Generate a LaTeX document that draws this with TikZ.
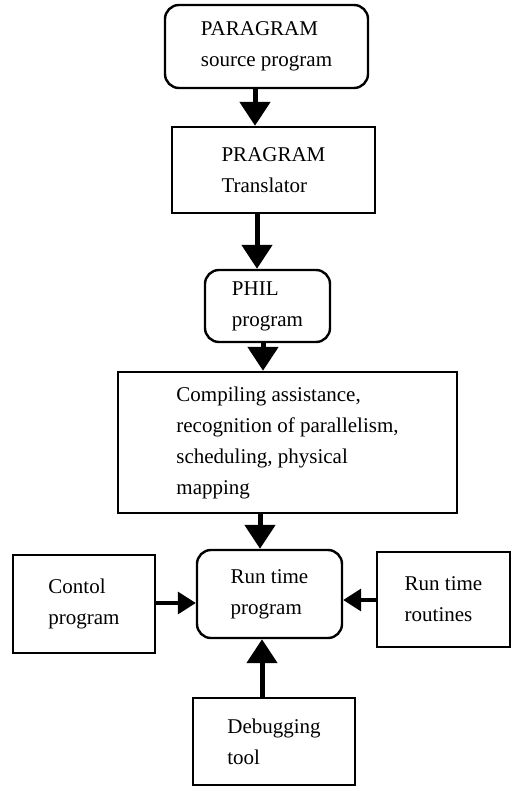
\documentclass[tikz,border=0pt]{standalone}
\usepackage{fontspec}
\setmainfont{Liberation Serif}
\usetikzlibrary{arrows.meta}

\begin{document}
\begin{tikzpicture}[x=1pt, y=-1pt,
    box/.style={draw, line width=2.4pt, align=left, inner sep=0pt, font=\fontsize{21}{31}\selectfont},
    round box/.style={box, rounded corners=14pt},
    flow/.style={line width=5pt, -{Triangle[width=30pt,length=24pt]}},
    side flow/.style={line width=3.5pt, -{Triangle[width=22pt,length=18pt]}}]
        \useasboundingbox (0,0) rectangle (519,791);

          \node[round box, minimum width=203pt, minimum height=83pt] (src) at (266.5,46.5) {PARAGRAM\\source program};
          \node[box, minimum width=203pt, minimum height=86pt] (trans) at (273.5,170) {PRAGRAM\\Translator};
          \node[round box, minimum width=125pt, minimum height=72pt] (phil) at (267.5,306) {PHIL\\program};
          \node[box, minimum width=339pt, minimum height=141pt] (comp) at (287.5,442.5) {Compiling assistance,\\recognition of parallelism,\\scheduling, physical\\mapping};
          \node[round box, minimum width=145pt, minimum height=88pt] (run) at (269.5,594) {Run time\\program};
          \node[box, minimum width=142pt, minimum height=98pt] (ctl) at (84,604) {Contol\\program};
          \node[box, minimum width=133pt, minimum height=95pt] (rtr) at (443.5,599.5) {Run time\\routines};
          \node[box, minimum width=162pt, minimum height=87pt] (dbg) at (274,741.5) {Debugging\\tool};

          \path
            (src.south -| 255,0) edge[flow] (trans.north -| 255,0)
            (trans.south -| 257,0) edge[flow] (phil.north -| 257,0)
            (phil.south -| 263,0) edge[flow] (comp.north -| 263,0)
            (comp.south -| 260,0) edge[flow] (run.north -| 260,0)
            (dbg.north -| 262,0) edge[flow] (run.south -| 262,0)
            (ctl.east |- 0,603) edge[side flow] (run.west |- 0,603)
            (rtr.west |- 0,600) edge[side flow] (run.east |- 0,600);

        \end{tikzpicture}
\end{document}
